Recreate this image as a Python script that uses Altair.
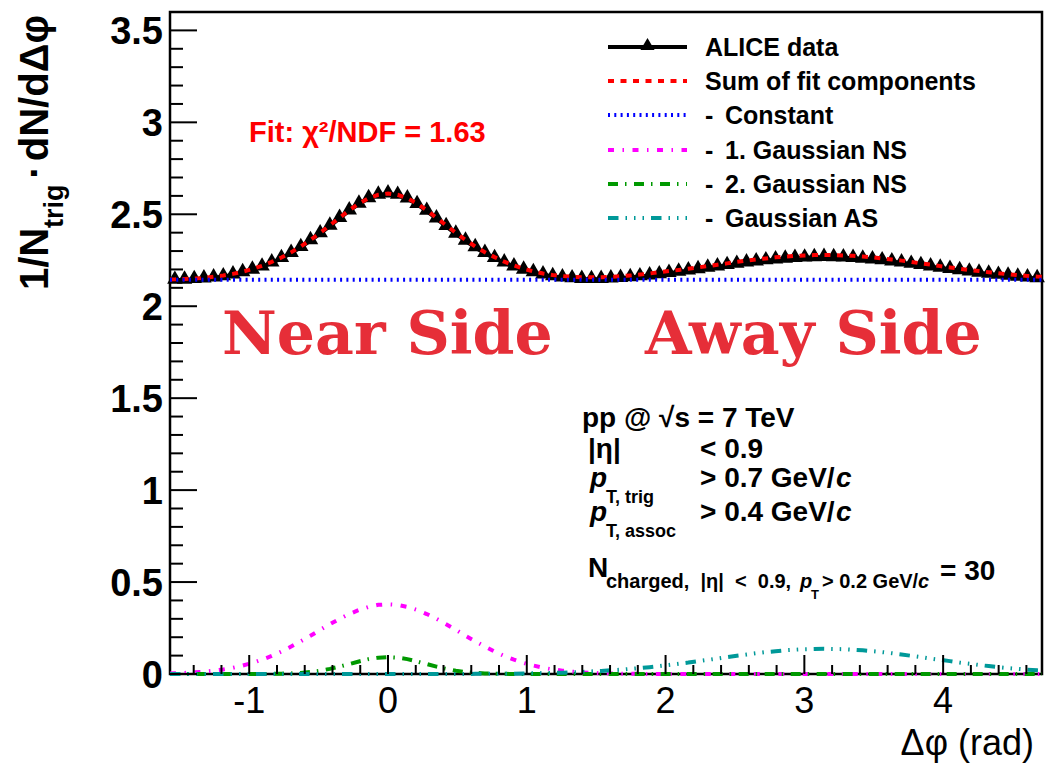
import numpy as np
import pandas as pd
import altair as alt

# ---------------- data ----------------
N_BINS = 90
DPHI_LO, DPHI_HI = -np.pi / 2, 3 * np.pi / 2
BIN_CENTERS = [DPHI_LO + (i + 0.5) * (DPHI_HI - DPHI_LO) / N_BINS for i in range(N_BINS)]
FIT_X = [DPHI_LO] + BIN_CENTERS + [DPHI_HI]

ALICE_DATA = [
    2.142, 2.143, 2.146, 2.149, 2.155, 2.161, 2.171, 2.183, 2.197, 2.214,
    2.236, 2.260, 2.288, 2.320, 2.357, 2.395, 2.436, 2.478, 2.519, 2.556,
    2.586, 2.605, 2.612, 2.604, 2.584, 2.554, 2.517, 2.476, 2.434, 2.393,
    2.355, 2.319, 2.288, 2.260, 2.236, 2.215, 2.197, 2.183, 2.171, 2.162,
    2.155, 2.150, 2.147, 2.146, 2.147, 2.149, 2.152, 2.156, 2.161, 2.166,
    2.172, 2.179, 2.186, 2.193, 2.200, 2.208, 2.215, 2.222, 2.229, 2.236,
    2.242, 2.248, 2.253, 2.257, 2.261, 2.263, 2.265, 2.266, 2.265, 2.264,
    2.261, 2.257, 2.253, 2.248, 2.242, 2.236, 2.229, 2.222, 2.215, 2.208,
    2.201, 2.194, 2.187, 2.181, 2.175, 2.169, 2.164, 2.159, 2.155, 2.151,
]

FIT_SUM = [
    2.145,
    2.146, 2.148, 2.150, 2.154, 2.160, 2.167, 2.176, 2.188, 2.202, 2.220,
    2.241, 2.265, 2.293, 2.325, 2.361, 2.399, 2.440, 2.481, 2.522, 2.558,
    2.587, 2.606, 2.613, 2.606, 2.587, 2.558, 2.522, 2.481, 2.440, 2.399,
    2.361, 2.325, 2.294, 2.267, 2.242, 2.222, 2.204, 2.189, 2.178, 2.170,
    2.164, 2.160, 2.158, 2.157, 2.158, 2.160, 2.163, 2.167, 2.172, 2.178,
    2.185, 2.191, 2.197, 2.204, 2.211, 2.218, 2.226, 2.233, 2.241, 2.248,
    2.254, 2.260, 2.266, 2.270, 2.274, 2.276, 2.278, 2.279, 2.278, 2.276,
    2.274, 2.270, 2.266, 2.260, 2.254, 2.248, 2.241, 2.233, 2.226, 2.218,
    2.211, 2.204, 2.197, 2.191, 2.185, 2.179, 2.174, 2.169, 2.165, 2.161,
    2.160,
]

CONST_X = [DPHI_LO, DPHI_HI]
FIT_CONST = [2.144, 2.144]

GAUSS_NS1 = [
    0.003,
    0.004, 0.006, 0.009, 0.013, 0.018, 0.025, 0.034, 0.046, 0.060, 0.078,
    0.098, 0.122, 0.149, 0.178, 0.208, 0.240, 0.271, 0.300, 0.326, 0.348,
    0.365, 0.376, 0.379, 0.376, 0.365, 0.348, 0.326, 0.300, 0.271, 0.240,
    0.208, 0.178, 0.149, 0.122, 0.098, 0.078, 0.060, 0.046, 0.034, 0.025,
    0.018, 0.013, 0.009, 0.006, 0.004, 0.003, 0.002, 0.001, 0.001, 0.000,
    0.000, 0.000, 0.000, 0.000, 0.000, 0.000, 0.000, 0.000, 0.000, 0.000,
    0.000, 0.000, 0.000, 0.000, 0.000, 0.000, 0.000, 0.000, 0.000, 0.000,
    0.000, 0.000, 0.000, 0.000, 0.000, 0.000, 0.000, 0.000, 0.000, 0.000,
    0.000, 0.000, 0.000, 0.000, 0.000, 0.000, 0.000, 0.000, 0.000, 0.000,
    0.000,
]

GAUSS_NS2 = [
    0.000,
    0.000, 0.000, 0.000, 0.000, 0.000, 0.000, 0.000, 0.000, 0.000, 0.000,
    0.001, 0.002, 0.003, 0.006, 0.011, 0.018, 0.028, 0.040, 0.054, 0.068,
    0.081, 0.089, 0.092, 0.089, 0.081, 0.068, 0.054, 0.040, 0.028, 0.018,
    0.011, 0.006, 0.003, 0.002, 0.001, 0.000, 0.000, 0.000, 0.000, 0.000,
    0.000, 0.000, 0.000, 0.000, 0.000, 0.000, 0.000, 0.000, 0.000, 0.000,
    0.000, 0.000, 0.000, 0.000, 0.000, 0.000, 0.000, 0.000, 0.000, 0.000,
    0.000, 0.000, 0.000, 0.000, 0.000, 0.000, 0.000, 0.000, 0.000, 0.000,
    0.000, 0.000, 0.000, 0.000, 0.000, 0.000, 0.000, 0.000, 0.000, 0.000,
    0.000, 0.000, 0.000, 0.000, 0.000, 0.000, 0.000, 0.000, 0.000, 0.000,
    0.000,
]

GAUSS_AS = [
    0.000,
    0.000, 0.000, 0.000, 0.000, 0.000, 0.000, 0.000, 0.000, 0.000, 0.000,
    0.000, 0.000, 0.000, 0.000, 0.000, 0.000, 0.000, 0.000, 0.000, 0.000,
    0.000, 0.000, 0.000, 0.000, 0.000, 0.000, 0.000, 0.000, 0.000, 0.000,
    0.000, 0.001, 0.001, 0.001, 0.002, 0.002, 0.003, 0.004, 0.005, 0.006,
    0.007, 0.009, 0.011, 0.014, 0.016, 0.020, 0.023, 0.028, 0.032, 0.037,
    0.043, 0.049, 0.056, 0.062, 0.070, 0.077, 0.084, 0.092, 0.099, 0.106,
    0.113, 0.119, 0.124, 0.129, 0.132, 0.135, 0.136, 0.137, 0.136, 0.135,
    0.132, 0.129, 0.124, 0.119, 0.113, 0.106, 0.099, 0.092, 0.084, 0.077,
    0.070, 0.062, 0.056, 0.049, 0.043, 0.037, 0.032, 0.028, 0.023, 0.020,
    0.018,
]

X_MAJOR = [-1, 0, 1, 2, 3, 4]
X_LABELS = ["-1", "0", "1", "2", "3", "4"]
X_MINOR = [round(v, 1) for v in np.arange(-1.4, 4.65, 0.2) if abs(v - round(v)) > 0.05]
Y_MAJOR = [0, 0.5, 1, 1.5, 2, 2.5, 3, 3.5]
Y_LABELS = ["0", "0.5", "1", "1.5", "2", "2.5", "3", "3.5"]
Y_MINOR = [round(v, 1) for v in np.arange(0.1, 3.55, 0.1) if abs(v * 2 - round(v * 2)) > 0.05]

LEGEND_LABELS = ["ALICE data", "Sum of fit components", "Constant",
                 "1. Gaussian NS", "2. Gaussian NS", "Gaussian AS"]

# ---------------- layout / style ----------------
OX, OY = 170, 12          # plot origin inside the page
W, H = 872, 662
SANS = "Liberation Sans"
SERIF = "DejaVu Serif"
RED = "#ff0000"
BIG_RED = "#e62e38"

XS = alt.Scale(domain=[DPHI_LO, DPHI_HI], nice=False, zero=False)
YS = alt.Scale(domain=[0, 3.6], nice=False, zero=False)

DASH_SUM = [6, 6.5]
DASH_CONST = [2, 4.3]
DASH_NS1 = [6, 8.5, 1.5, 8.5]
DASH_NS2 = [10, 7, 1.5, 7.5]
DASH_AS = [10.5, 7, 1.5, 7, 1.5, 7, 1.5, 7]

ONE = pd.DataFrame({"a": [0]})


def txt(s, x, y, size, color="black", weight="bold", style="normal", font=SANS,
        align="left", baseline="alphabetic", angle=0):
    return alt.Chart(ONE).mark_text(
        text=s, fontSize=size, font=font, fontWeight=weight, fontStyle=style,
        color=color, align=align, baseline=baseline, angle=angle,
    ).encode(x=alt.value(x - OX), y=alt.value(y - OY))


def hline(x1, x2, y, color, dash=None, width=4):
    kw = dict(color=color, strokeWidth=width)
    if dash:
        kw["strokeDash"] = dash
    return alt.Chart(ONE).mark_rule(**kw).encode(
        x=alt.value(x1 - OX), x2=alt.value(x2 - OX), y=alt.value(y - OY))


df_data = pd.DataFrame({"dphi": BIN_CENTERS, "val": ALICE_DATA})
df_fit = pd.DataFrame({"dphi": FIT_X, "sum": FIT_SUM, "ns1": GAUSS_NS1,
                       "ns2": GAUSS_NS2, "as": GAUSS_AS})
df_const = pd.DataFrame({"dphi": CONST_X, "val": FIT_CONST})

data_line = alt.Chart(df_data).mark_line(color="black", strokeWidth=4).encode(
    x=alt.X("dphi:Q", scale=XS, axis=None),
    y=alt.Y("val:Q", scale=YS, axis=None),
)
data_pts = alt.Chart(df_data).mark_point(
    shape="triangle-up", filled=True, color="black", size=240, opacity=1, yOffset=-3
).encode(
    x=alt.X("dphi:Q", scale=XS, axis=None),
    y=alt.Y("val:Q", scale=YS, axis=None),
)


def fit_line(df, field, color, dash):
    return alt.Chart(df).mark_line(color=color, strokeWidth=4, strokeDash=dash).encode(
        x=alt.X("dphi:Q", scale=XS, axis=None),
        y=alt.Y(f"{field}:Q", scale=YS, axis=None),
    )


l_sum = fit_line(df_fit, "sum", RED, DASH_SUM)
l_const = fit_line(df_const, "val", "#0000ff", DASH_CONST)
l_ns1 = fit_line(df_fit, "ns1", "#ff00ff", DASH_NS1)
l_ns2 = fit_line(df_fit, "ns2", "#009900", DASH_NS2)
l_as = fit_line(df_fit, "as", "#009999", DASH_AS)

# inward ticks
xt_major = alt.Chart(pd.DataFrame({"v": X_MAJOR})).mark_rule(color="black", strokeWidth=2).encode(
    x=alt.X("v:Q", scale=XS, axis=None), y=alt.value(H), y2=alt.value(H - 19))
xt_minor = alt.Chart(pd.DataFrame({"v": X_MINOR})).mark_rule(color="black", strokeWidth=2).encode(
    x=alt.X("v:Q", scale=XS, axis=None), y=alt.value(H), y2=alt.value(H - 9))
yt_major = alt.Chart(pd.DataFrame({"v": Y_MAJOR})).mark_rule(color="black", strokeWidth=2).encode(
    y=alt.Y("v:Q", scale=YS, axis=None), x=alt.value(0), x2=alt.value(27))
yt_minor = alt.Chart(pd.DataFrame({"v": Y_MINOR})).mark_rule(color="black", strokeWidth=2).encode(
    y=alt.Y("v:Q", scale=YS, axis=None), x=alt.value(0), x2=alt.value(13))

# tick labels (through the scales)
x_lab = alt.Chart(pd.DataFrame({"v": X_MAJOR, "t": X_LABELS})).mark_text(
    font=SANS, fontSize=36, fontWeight="normal", color="black",
    align="center", baseline="alphabetic"
).encode(x=alt.X("v:Q", scale=XS, axis=None), y=alt.value(713 - OY), text="t:N")
y_lab = alt.Chart(pd.DataFrame({"v": Y_MAJOR, "t": Y_LABELS})).mark_text(
    font=SANS, fontSize=38, fontWeight="bold", color="black",
    align="right", baseline="alphabetic", yOffset=13.5
).encode(y=alt.Y("v:Q", scale=YS, axis=None), x=alt.value(163 - OX), text="t:N")

# legend
LEG_Y = [47, 81, 115, 150, 184, 218]
LX1, LX2 = 608, 687
legend = [
    hline(LX1, LX2, LEG_Y[0], "black", None, 4),
    alt.Chart(ONE).mark_point(shape="triangle-up", filled=True, color="black",
                              size=200, opacity=1).encode(
        x=alt.value((LX1 + LX2) / 2 - OX), y=alt.value(LEG_Y[0] - 3 - OY)),
    hline(LX1, LX2, LEG_Y[1], RED, DASH_SUM),
    hline(LX1, LX2, LEG_Y[2], "#0000ff", DASH_CONST),
    hline(LX1, LX2, LEG_Y[3], "#ff00ff", DASH_NS1),
    hline(LX1, LX2, LEG_Y[4], "#009900", DASH_NS2),
    hline(LX1, LX2, LEG_Y[5], "#009999", DASH_AS),
    txt(LEGEND_LABELS[0], 705, LEG_Y[0] + 9, 25),
    txt(LEGEND_LABELS[1], 705, LEG_Y[1] + 9, 25),
]
for k in range(2, 6):
    legend.append(txt("-", 705, LEG_Y[k] + 9, 25))
    legend.append(txt(LEGEND_LABELS[k], 725, LEG_Y[k] + 9, 25))

# annotations
annots = [
    txt("Fit: χ²/NDF = 1.63", 249, 142, 29, color=RED),
    txt("Near Side", 222, 354, 60, color=BIG_RED, font=SERIF),
    txt("Away Side", 645, 354, 60, color=BIG_RED, font=SERIF),
    # info block
    txt("pp @ √s = 7 TeV", 582, 427, 28),
    txt("|η|", 588, 458, 28),
    txt("< 0.9", 700, 458, 28),
    txt("p", 590, 487, 28, style="italic"),
    txt("T, trig", 606, 503, 18),
    txt("> 0.7 GeV/", 700, 487, 28),
    txt("c", 836, 487, 28, style="italic"),
    txt("p", 590, 521, 28, style="italic"),
    txt("T, assoc", 606, 537, 18),
    txt("> 0.4 GeV/", 700, 521, 28),
    txt("c", 836, 521, 28, style="italic"),
    txt("N", 588, 577, 28),
    txt("charged,\u00a0 |η|\u00a0 <\u00a0 0.9,", 606, 588, 20),
    txt("p", 800, 588, 20, style="italic"),
    txt("T", 811, 599, 13),
    txt("> 0.2 GeV/", 822, 588, 20),
    txt("c", 918, 588, 20, style="italic"),
    txt("= 30", 940, 580, 28),
    # axis titles
    txt("Δφ (rad)", 1034, 755, 36, weight="normal", align="right"),
    txt("1/N", 48, 290, 40, angle=270),
    txt("trig", 63, 228, 27, angle=270),
    txt("·", 48, 172, 40, angle=270, align="center"),
    txt("dN/dΔφ", 48, 15, 40, angle=270, align="right"),
]

layers = [data_line, data_pts, l_sum, l_const, l_ns1, l_ns2, l_as,
          xt_major, xt_minor, yt_major, yt_minor, x_lab, y_lab] + legend + annots

chart = alt.layer(*layers).properties(
    width=W, height=H,
    padding={"left": OX, "top": OY, "right": 1052 - OX - W, "bottom": 768 - OY - H},
    autosize=alt.AutoSizeParams(type="none"),
    background="white",
).configure_view(stroke="black", strokeWidth=2.5)

chart.save("out.html", embed_options={"renderer": "svg", "actions": False})
